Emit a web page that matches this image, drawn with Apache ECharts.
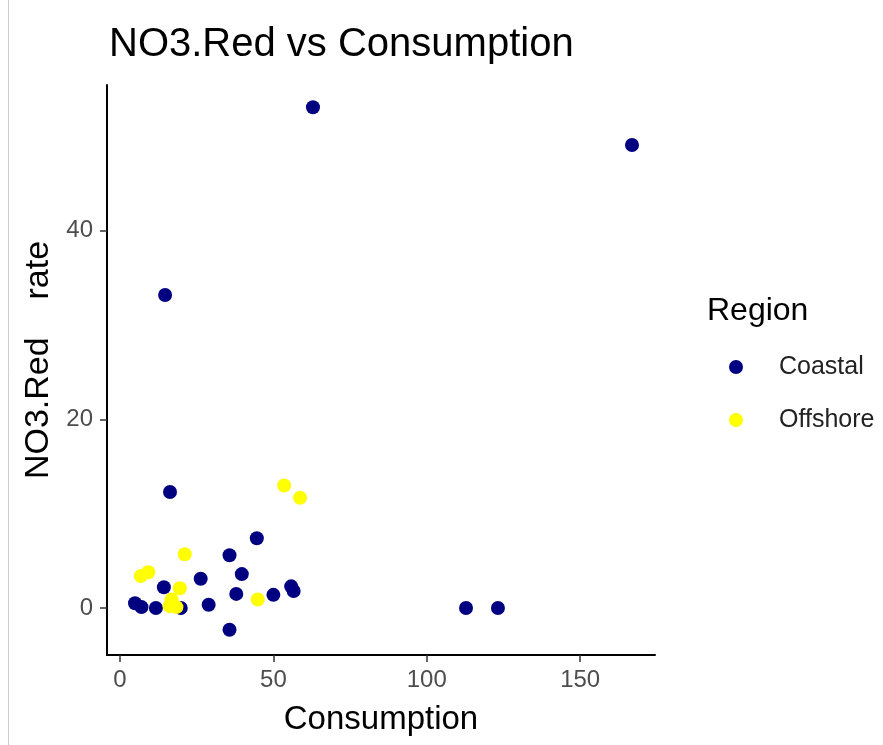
<!DOCTYPE html>
<html>
<head>
<meta charset="utf-8">
<script src="https://cdn.jsdelivr.net/npm/echarts@6/dist/echarts.min.js"></script>
<style>html,body{margin:0;padding:0;background:#fff;}#c{width:883px;height:745px;}</style>
</head>
<body>
<div id="c"></div>
<script>
// Data
var coastalX = [62.9, 166.9, 14.7, 16.3, 44.6, 35.7, 39.7, 26.3, 14.3, 37.9, 50.0, 55.8, 56.6, 4.9, 7.0, 11.7, 19.8, 28.9, 35.7, 112.8, 123.2];
var coastalY = [53.1, 49.1, 33.2, 12.3, 7.4, 5.6, 3.6, 3.1, 2.2, 1.5, 1.4, 2.3, 1.8, 0.5, 0.1, 0.0, 0.0, 0.35, -2.3, 0.0, 0.0];
var offshoreX = [53.5, 58.7, 21.1, 9.2, 6.8, 19.5, 16.8, 16.2, 18.4, 44.9];
var offshoreY = [13.0, 11.7, 5.7, 3.8, 3.4, 2.1, 0.9, 0.2, 0.1, 0.9];
var xTicks = [0, 50, 100, 150];
var yTicks = [0, 20, 40];
var seriesNames = ['Coastal', 'Offshore'];

function pairs(xs, ys) { return xs.map(function (x, i) { return [x, ys[i]]; }); }

var font = 'Liberation Sans, Arial, Helvetica, sans-serif';
var chart = echarts.init(document.getElementById('c'), null, { renderer: 'canvas' });
chart.setOption({
  animation: false,
  backgroundColor: '#ffffff',
  textStyle: { fontFamily: font },
  title: [
    { text: 'NO3.Red vs Consumption', left: 109, top: 25, padding: 0,
      textStyle: { fontFamily: font, fontSize: 40, fontWeight: 'normal', color: '#000' } },
    { text: 'Region', left: 707, top: 295, padding: 0,
      textStyle: { fontFamily: font, fontSize: 32, fontWeight: 'normal', color: '#000' } }
  ],
  legend: {
    orient: 'vertical', left: 724, top: 349,
    itemWidth: 76, itemHeight: 14, itemGap: 27,
    icon: 'circle',
    textStyle: { fontFamily: font, fontSize: 25, color: '#222', lineHeight: 26 },
    data: seriesNames
  },
  graphic: [
    { type: 'line', shape: { x1: 8.5, y1: 0, x2: 8.5, y2: 745 }, style: { stroke: '#cccccc', lineWidth: 1 } }
  ],
  grid: { left: 107, right: 228, top: 85, bottom: 90, containLabel: false },
  xAxis: {
    type: 'value', min: -4.24, max: 174.4,
    name: 'Consumption', nameLocation: 'middle', nameGap: 48,
    nameTextStyle: { fontFamily: font, fontSize: 33, color: '#000' },
    axisLine: { show: true, onZero: false, lineStyle: { color: '#000', width: 2 } },
    axisTick: { show: true, length: 7, customValues: xTicks, lineStyle: { color: '#333', width: 1.5 } },
    axisLabel: { customValues: xTicks, margin: 13, fontSize: 24, color: '#4d4d4d', fontFamily: font },
    splitLine: { show: false }
  },
  yAxis: {
    type: 'value', min: -4.98, max: 55.46,
    name: 'NO3.Red    rate', nameLocation: 'middle', nameGap: 51, nameRotate: 90,
    nameTextStyle: { fontFamily: font, fontSize: 34, color: '#000', padding: [0, 0, 0, 20] },
    axisLine: { show: true, onZero: false, lineStyle: { color: '#000', width: 2 } },
    axisTick: { show: true, length: 7, customValues: yTicks, lineStyle: { color: '#333', width: 1.5 } },
    axisLabel: { customValues: yTicks, margin: 14, fontSize: 24, color: '#4d4d4d', fontFamily: font },
    splitLine: { show: false }
  },
  series: [
    { name: seriesNames[0], type: 'scatter', symbol: 'circle', symbolSize: 14,
      itemStyle: { color: '#000080', opacity: 1 }, data: pairs(coastalX, coastalY) },
    { name: seriesNames[1], type: 'scatter', symbol: 'circle', symbolSize: 14,
      itemStyle: { color: '#ffff00', opacity: 1 }, data: pairs(offshoreX, offshoreY) }
  ]
});
</script>
</body>
</html>
